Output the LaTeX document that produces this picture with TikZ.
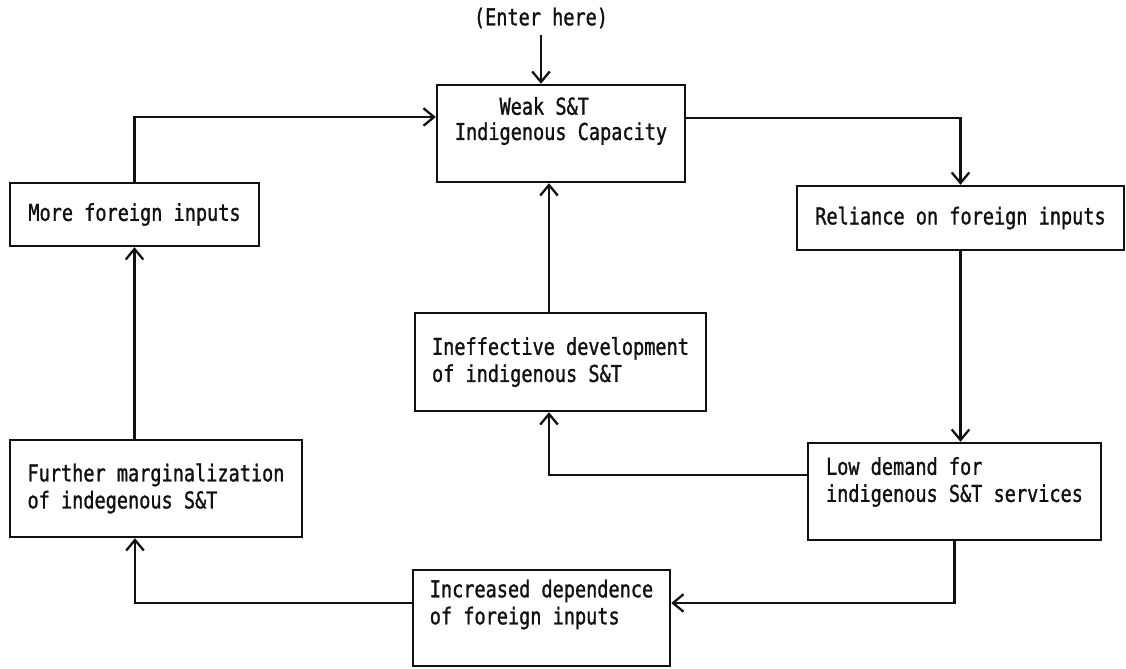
\documentclass[tikz,border=0pt]{standalone}
\usepackage{fontspec}
\usetikzlibrary{arrows.meta, positioning, calc}
\newfontfamily\dotmono[FakeStretch=0.8,FakeBold=1.2]{DejaVu Sans Mono}
\definecolor{inkColor}{HTML}{111111}
\definecolor{paperColor}{HTML}{FFFFFF}

\begin{document}
\begin{tikzpicture}[
    x=0.02cm, y=-0.02cm,
    font=\dotmono\fontsize{13.2pt}{15.4pt}\selectfont,
    loopbox/.style={
        draw=inkColor, line width=1.4pt,
        align=left, inner sep=2pt, text=inkColor
    },
    flowarrow/.style={
        -{Straight Barb[length=6pt,width=10pt,line width=1.3pt]},
        inkColor, line width=1.4pt
    },
]

\path[fill=paperColor] (0,0) rectangle (1126,669);

% ============================================================
%  BOXES
% ============================================================
\node[text=inkColor] (enter) at (541,18) {(Enter here)};

\node[loopbox, minimum width=4.96cm, minimum height=1.94cm,
      text depth=0.6cm] (weak)
    at (561,133.5) {\hphantom{0000}Weak S\&T\\[-1pt]Indigenous Capacity};

\node[loopbox, minimum width=4.98cm, minimum height=1.26cm] (more)
    at (134.5,214.5) {More foreign inputs};

\node[loopbox, minimum width=6.54cm, minimum height=1.28cm] (reliance)
    at (960.5,218) {Reliance on foreign inputs};

\node[loopbox, minimum width=5.82cm, minimum height=1.96cm] (ineff)
    at (560.5,362) {Ineffective development\\of indigenous S\&T};

\node[loopbox, minimum width=5.84cm, minimum height=1.94cm] (further)
    at (156,488.5) {Further marginalization\\of indegenous S\&T};

\node[loopbox, minimum width=5.86cm, minimum height=1.94cm,
      text depth=0.48cm] (lowdem)
    at (954.5,491.5) {Low demand for\\indigenous S\&T services};

\node[loopbox, minimum width=5.14cm, minimum height=1.92cm,
      text depth=0.64cm] (incr)
    at (541.5,618) {Increased dependence\\of foreign inputs};

% ============================================================
%  CONNECTORS
% ============================================================
\draw[flowarrow] (enter.south) -- (enter.south |- weak.north);

\draw[flowarrow] (more.north) |- ([yshift=0.33cm]weak.west);
\draw[flowarrow] ([yshift=0.31cm]weak.east) -| (reliance.north);
\draw[flowarrow] (reliance.south) -- (reliance.south |- lowdem.north);

\draw[flowarrow] ([yshift=0.33cm]lowdem.west) -| ([xshift=-0.23cm]ineff.south);
\draw[flowarrow] ([xshift=-0.23cm]ineff.north)
    -- ([xshift=-0.23cm]ineff.north |- weak.south);

\draw[flowarrow] (lowdem.south) |- ([yshift=0.3cm]incr.east);
\draw[flowarrow] ([yshift=0.3cm]incr.west) -| ([xshift=-0.42cm]further.south);
\draw[flowarrow] (more.south |- further.north) -- (more.south);

\end{tikzpicture}
\end{document}
